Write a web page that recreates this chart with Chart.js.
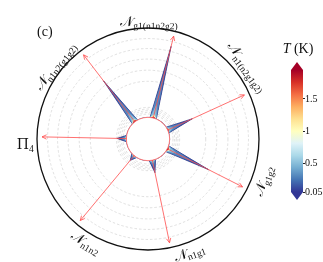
<!DOCTYPE html>
<html>
<head>
<meta charset="utf-8">
<script src="https://cdn.jsdelivr.net/npm/chart.js@4.4.1/dist/chart.umd.min.js"></script>
<style>
  html, body { margin: 0; padding: 0; background: #fff; overflow: hidden; }
  #wrap { position: relative; width: 323px; height: 262px; }
  #polar { position: absolute; left: 0; top: 0; }
  #cbar { position: absolute; left: 280px; top: 0; }
</style>
</head>
<body>
<div id="wrap">
  <canvas id="polar" width="323" height="262"></canvas>
  <canvas id="cbar" width="43" height="262"></canvas>
</div>
<script>
// axes, clockwise from the top one
const labelMain = ['𝒩', '𝒩', '𝒩', '𝒩', '𝒩', 'Π', '𝒩'];
const labelSub = ['g1(n1n2g2)', 'n1(n2g1g2)', 'g1g2', 'n1g1', 'n1n2', '4', 'n1n2(g1g2)'];

// temperatures (K) and spike length on each axis (radial units, outer ring = 100)
const temps = [0.05, 0.15, 0.3, 0.5, 1.0, 1.9];
const spikeLen = [
  [86, 44, 61, 31, 25, 28, 66],
  [83, 42.5, 59, 30, 24.5, 27, 64],
  [64, 35, 47, 26.5, 23, 24.5, 51],
  [33, 25, 29, 22.5, 21.5, 21.5, 31],
  [23, 21, 22.5, 20.5, 20.5, 20.3, 22.5],
  [21, 20.5, 21, 20, 20, 20, 21],
];
const holeR = 19.5;
const arrowEnd = 95.5;
const gridRings = [22.5, 24, 25.5, 27, 28.5, 52, 62, 72, 81.5, 90.5];
const rMax = 100;

// colour bar
const tMin = 0.05, tMax = 1.95;
const cbarTicks = [0.05, 0.5, 1, 1.5];

const rdylbu = ['#313695', '#4575b4', '#74add1', '#abd9e9', '#e0f3f8', '#ffffbf',
  '#fee090', '#fdae61', '#f46d43', '#d73027', '#a50026'];

function hexRgb(h) {
  return [parseInt(h.slice(1, 3), 16), parseInt(h.slice(3, 5), 16), parseInt(h.slice(5, 7), 16)];
}
function cmap(t) {
  let x = (t - tMin) / (tMax - tMin);
  x = Math.min(1, Math.max(0, x)) * 10;
  const k = Math.min(9, Math.floor(x));
  const f = x - k;
  const a = hexRgb(rdylbu[k]), b = hexRgb(rdylbu[k + 1]);
  const c = a.map((v, i) => Math.round(v + (b[i] - v) * f));
  return 'rgb(' + c.join(',') + ')';
}

// each axis gets blank slots after it so the spikes stay narrow
const SLOTS = 6;
const labels = [];
labelSub.forEach((s, i) => {
  labels.push(labelMain[i] + s);
  for (let k = 1; k < SLOTS; k++) labels.push('');
});

const datasets = temps.map((t, j) => ({
  label: 'T=' + t,
  data: spikeLen[j].flatMap(v => [v, ...Array(SLOTS - 1).fill(holeR)]),
  backgroundColor: cmap(t),
  borderColor: j === 0 ? '#2a2f80' : 'rgba(0,0,0,0)',
  borderWidth: j === 0 ? 0.7 : 0.01,
  fill: 'origin',
  pointRadius: 0,
  order: temps.length - j,
}));

const overlay = {
  id: 'overlay',
  afterDatasetsDraw(chart, args, opts) {
    const ctx = chart.ctx;
    const s = chart.scales.r;
    const cx = s.xCenter, cy = s.yCenter;

    // white hole in the middle
    ctx.save();
    ctx.beginPath();
    ctx.arc(cx, cy, s.getDistanceFromCenterForValue(holeR), 0, Math.PI * 2);
    ctx.fillStyle = '#fff';
    ctx.fill();
    ctx.strokeStyle = '#ff6b6b';
    ctx.lineWidth = 0.8;
    ctx.stroke();

    // red arrows along the axes
    ctx.strokeStyle = '#ff4d4d';
    ctx.lineWidth = 0.8;
    for (let i = 0; i < labelSub.length; i++) {
      const p0 = s.getPointPositionForValue(SLOTS * i, holeR);
      const p1 = s.getPointPositionForValue(SLOTS * i, arrowEnd);
      const a = Math.atan2(p1.y - p0.y, p1.x - p0.x);
      ctx.beginPath();
      ctx.moveTo(p0.x, p0.y);
      ctx.lineTo(p1.x, p1.y);
      ctx.moveTo(p1.x - 5 * Math.cos(a - 0.45), p1.y - 5 * Math.sin(a - 0.45));
      ctx.lineTo(p1.x, p1.y);
      ctx.lineTo(p1.x - 5 * Math.cos(a + 0.45), p1.y - 5 * Math.sin(a + 0.45));
      ctx.stroke();
    }

    // axis names, written along the rim
    ctx.fillStyle = '#111';
    for (let i = 0; i < labelSub.length; i++) {
      const b = opts.bearing[i] * Math.PI / 180;
      const d = opts.dist[i];
      const x = cx + d * Math.sin(b), y = cy - d * Math.cos(b);
      let rot = opts.bearing[i];
      if (rot > 90 && rot < 270) rot -= 180;
      else if (rot >= 270) rot -= 360;
      if (opts.upright.includes(i)) rot = 0;
      ctx.save();
      ctx.translate(x, y);
      ctx.rotate(rot * Math.PI / 180);
      ctx.font = '14px "DejaVu Serif"';
      const w1 = ctx.measureText(labelMain[i]).width;
      ctx.font = '9.5px "Liberation Serif"';
      const w2 = ctx.measureText(labelSub[i]).width;
      const x0 = -(w1 + w2) / 2;
      ctx.textBaseline = 'alphabetic';
      ctx.font = '14px "DejaVu Serif"';
      ctx.fillText(labelMain[i], x0, 4);
      ctx.font = '9.5px "Liberation Serif"';
      ctx.fillText(labelSub[i], x0 + w1, 7);
      ctx.restore();
    }

    ctx.font = '14px "Liberation Serif"';
    ctx.fillText('(c)', 37, 36);
    ctx.restore();
  }
};

new Chart(document.getElementById('polar'), {
  type: 'radar',
  data: { labels: labels, datasets: datasets },
  options: {
    responsive: false,
    animation: false,
    layout: { padding: { left: 37, right: 64, top: 28, bottom: 12 } },
    elements: { line: { tension: 0 } },
    plugins: {
      legend: { display: false },
      tooltip: { enabled: false },
      overlay: {
        bearing: [0.5, 54, 110, 160, 211, 267, 308],
        dist: [117, 122, 123, 121, 121, 123, 118],
        upright: [5],
      },
    },
    scales: {
      r: {
        min: 0,
        max: rMax,
        startAngle: 14,
        ticks: { display: false },
        pointLabels: { display: false },
        angleLines: { display: false },
        grid: {
          circular: true,
          color: c => (c.tick && c.tick.value === rMax ? '#111' : '#d2d2d2'),
          lineWidth: c => (c.tick && c.tick.value === rMax ? 1.3 : 0.7),
        },
        border: { dash: c => (c.tick && c.tick.value === rMax ? [] : [2.5, 2]) },
        afterBuildTicks: sc => {
          sc.ticks = [0, ...gridRings, rMax].map(v => ({ value: v }));
        },
      },
    },
  },
  plugins: [overlay],
});

const cbarExtras = {
  id: 'cbarExtras',
  afterDraw(chart) {
    const ctx = chart.ctx;
    const a = chart.chartArea;
    const mid = (a.left + a.right) / 2;
    ctx.save();
    ctx.fillStyle = rdylbu[10];
    ctx.beginPath();
    ctx.moveTo(a.left, a.top);
    ctx.lineTo(mid, a.top - 8);
    ctx.lineTo(a.right, a.top);
    ctx.fill();
    ctx.fillStyle = rdylbu[0];
    ctx.beginPath();
    ctx.moveTo(a.left, a.bottom);
    ctx.lineTo(mid, a.bottom + 8);
    ctx.lineTo(a.right, a.bottom);
    ctx.fill();

    ctx.fillStyle = '#111';
    ctx.textBaseline = 'alphabetic';
    ctx.font = 'italic 14px "Liberation Serif"';
    const wT = ctx.measureText('T').width;
    ctx.font = '14px "Liberation Serif"';
    const wK = ctx.measureText(' (K)').width;
    const x0 = mid + 1 - (wT + wK) / 2;
    ctx.font = 'italic 14px "Liberation Serif"';
    ctx.fillText('T', x0, 53);
    ctx.font = '14px "Liberation Serif"';
    ctx.fillText(' (K)', x0 + wT, 53);
    ctx.restore();
  }
};

new Chart(document.getElementById('cbar'), {
  type: 'bar',
  data: {
    labels: ['T'],
    datasets: [{
      data: [[tMin, tMax]],
      backgroundColor: c => {
        const a = c.chart.chartArea;
        if (!a) return rdylbu[0];
        const g = c.chart.ctx.createLinearGradient(0, a.bottom, 0, a.top);
        rdylbu.forEach((col, k) => g.addColorStop(k / 10, col));
        return g;
      },
      borderWidth: 0,
      barPercentage: 1,
      categoryPercentage: 1,
    }],
  },
  options: {
    responsive: false,
    animation: false,
    layout: { padding: { left: 11, right: 0, top: 70, bottom: 70 } },
    plugins: { legend: { display: false }, tooltip: { enabled: false } },
    scales: {
      x: { display: false },
      y: {
        position: 'right',
        min: tMin,
        max: tMax,
        afterBuildTicks: sc => {
          sc.ticks = cbarTicks.map(v => ({ value: v }));
        },
        afterFit: sc => { sc.width = 20; },
        grid: { drawOnChartArea: false, tickLength: 2, color: '#222' },
        border: { display: false },
        ticks: {
          padding: 0,
          color: '#111',
          font: { family: 'Liberation Serif', size: 10 },
          callback: v => String(v),
        },
      },
    },
  },
  plugins: [cbarExtras],
});
</script>
</body>
</html>
